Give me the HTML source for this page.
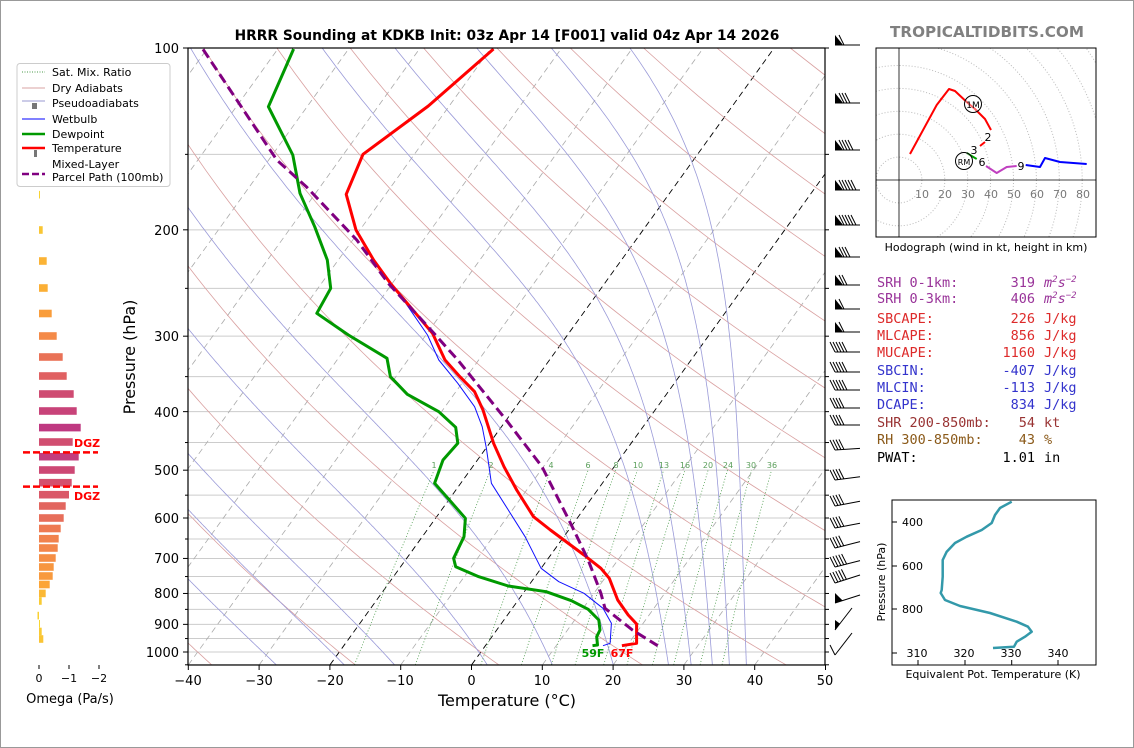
<!DOCTYPE html>
<html><head><meta charset="utf-8"><style>
html,body{margin:0;padding:0;background:#fff;}
svg{display:block;font-family:"DejaVu Sans","Liberation Sans",sans-serif;}
.mono{font-family:"DejaVu Sans Mono","Liberation Mono",monospace;font-size:13.5px;}
</style></head><body>
<svg id="s" width="1134" height="748" viewBox="0 0 1134 748" xmlns="http://www.w3.org/2000/svg">
<rect x="0.5" y="0.5" width="1133" height="747" fill="#fff" stroke="#999"/>
<defs>
<clipPath id="mc"><rect x="188" y="48" width="637" height="617"/></clipPath>
<clipPath id="hc"><rect x="876" y="48" width="220" height="189"/></clipPath>
</defs>
<g id="bg" clip-path="url(#mc)"></g>
<g id="mr" clip-path="url(#mc)" font-size="8" fill="#5a9e5a" text-anchor="middle">
<text x="434" y="468">1</text><text x="491" y="468">2</text><text x="551" y="468">4</text><text x="588" y="468">6</text><text x="616" y="468">8</text><text x="638" y="468">10</text><text x="664" y="468">13</text><text x="685" y="468">16</text><text x="708" y="468">20</text><text x="728" y="468">24</text><text x="751" y="468">30</text><text x="772" y="468">36</text>
</g>
<g clip-path="url(#mc)" fill="none" stroke-linejoin="round">
<polyline stroke="#1010ff" stroke-width="1" points="493.5,49 428.3,106 409.4,120 363,154.3 346.2,194.3 356,230 373.6,260 390.4,283.3 398.9,293.3 427.5,335 438.8,360 457.8,383.3 474.6,406.7 482.2,426.7 486.4,448.3 491.4,483.3 508.3,510 525.1,536.7 541.1,568.3 558.8,581.7 584,593.3 603,608.3 611.4,623.3 610.1,643.3 603,645.7"/>
<polyline stroke="#ff0000" stroke-width="3" points="493.5,49 428.3,106 409.4,120 363,154.3 346.2,194.3 356,230 373.6,260 390.4,283.3 415.7,313.3 432.5,333.3 445,360 459.9,376.7 474.6,391.7 483,410 493.6,443.3 504,466.7 516.7,490 533.5,516.7 550.4,530 584,555 600.9,568.3 609.3,578.3 617.7,600 628.2,615 636.6,624 636.6,643.3 621.9,645.7"/>
<polyline stroke="#009900" stroke-width="3" points="293.6,49 268.4,106.7 292.8,155 300,193.3 314.7,226.7 327.3,260 330.7,288.3 316.8,313.3 348.4,335 387,358.3 390.4,376.7 407.3,394.3 438.8,411.7 455.7,427.3 457.8,443.3 443,460 434.6,483.3 449.4,500 465.4,518.3 464,536.7 453.6,558.3 455.7,566.7 478.8,576.7 508.3,586 546.2,591.7 571.4,600.7 588.2,609.3 598.8,620 600,630 596.7,636.7 597.5,645 592.5,645.7"/>
<polyline stroke="#800080" stroke-width="3" stroke-dasharray="10,5" points="203,49.3 276.8,160 306.3,186.7 356.8,240 388.3,283.3 432.5,331.7 457.8,360 506.2,420 542,466.7 571.4,525 588.2,560 600.9,593.3 605,608.3 632.4,630 657.7,645.7"/>
</g>
<text x="593" y="657" font-size="11" font-weight="bold" fill="#009900" text-anchor="middle">59F</text>
<text x="622" y="657" font-size="11" font-weight="bold" fill="#ff0000" text-anchor="middle">67F</text>
<rect x="188" y="48" width="637" height="617" fill="none" stroke="#000" stroke-width="1.2"/>
<g id="ax" font-size="13" fill="#000"></g>
<text x="507" y="40" font-size="13.8" font-weight="bold" text-anchor="middle">HRRR Sounding at KDKB Init: 03z Apr 14 [F001] valid 04z Apr 14 2026</text>
<text x="507" y="706" font-size="16" text-anchor="middle">Temperature (°C)</text>
<text transform="translate(135,357) rotate(-90)" font-size="16" text-anchor="middle">Pressure (hPa)</text>
<g font-size="13" text-anchor="end">
<text x="179" y="53">100</text><text x="179" y="235">200</text><text x="179" y="341">300</text><text x="179" y="417">400</text><text x="179" y="475">500</text><text x="179" y="523">600</text><text x="179" y="563">700</text><text x="179" y="598">800</text><text x="179" y="629">900</text><text x="179" y="657">1000</text>
</g>
<g font-size="13" text-anchor="middle">
<text x="188" y="685">−40</text><text x="259" y="685">−30</text><text x="330" y="685">−20</text><text x="400" y="685">−10</text><text x="471.5" y="685">0</text><text x="542" y="685">10</text><text x="613" y="685">20</text><text x="684" y="685">30</text><text x="755" y="685">40</text><text x="825" y="685">50</text>
</g>
<g id="barbs" stroke="#000" fill="#000" stroke-width="1"></g>
<g id="om"></g>
<line x1="23" y1="452.4" x2="98" y2="452.4" stroke="#ff0000" stroke-width="2.5" stroke-dasharray="7,3"/>
<line x1="23" y1="486.6" x2="98" y2="486.6" stroke="#ff0000" stroke-width="2.5" stroke-dasharray="7,3"/>
<text x="74" y="447" font-size="11" font-weight="bold" fill="#ff0000">DGZ</text>
<text x="74" y="500" font-size="11" font-weight="bold" fill="#ff0000">DGZ</text>
<g stroke="#000"><line x1="39" y1="665" x2="39" y2="669"/><line x1="69" y1="665" x2="69" y2="669"/><line x1="99" y1="665" x2="99" y2="669"/></g>
<g font-size="11" text-anchor="middle"><text x="39" y="682">0</text><text x="69" y="682">−1</text><text x="99" y="682">−2</text></g>
<text x="70" y="703" font-size="13" text-anchor="middle">Omega (Pa/s)</text>
<rect x="17" y="63.5" width="153" height="123" rx="3" fill="#fff" fill-opacity="0.85" stroke="#ccc"/>
<g font-size="11">
<line x1="22" y1="72" x2="45" y2="72" stroke="#4a9a4a" stroke-dasharray="1,1.5"/><text x="52" y="76">Sat. Mix. Ratio</text>
<line x1="22" y1="88" x2="45" y2="88" stroke="#d9a3a3"/><text x="52" y="92">Dry Adiabats</text>
<line x1="22" y1="101" x2="45" y2="101" stroke="#9a9ad0"/><rect x="32" y="103" width="5" height="6" fill="#777"/><text x="52" y="107">Pseudoadiabats</text>
<line x1="22" y1="119" x2="45" y2="119" stroke="#0000ff"/><text x="52" y="123">Wetbulb</text>
<line x1="22" y1="134" x2="45" y2="134" stroke="#009900" stroke-width="2.5"/><text x="52" y="138">Dewpoint</text>
<line x1="22" y1="148" x2="45" y2="148" stroke="#ff0000" stroke-width="2.5"/><rect x="34" y="150" width="3" height="7" fill="#777"/><text x="52" y="152">Temperature</text>
<line x1="22" y1="174" x2="45" y2="174" stroke="#800080" stroke-width="2.5" stroke-dasharray="7,3"/><text x="52" y="168">Mixed-Layer</text><text x="52" y="181">Parcel Path (100mb)</text>
</g>
<text x="987" y="37" font-size="15.2" font-weight="bold" fill="#808080" text-anchor="middle">TROPICALTIDBITS.COM</text>
<g clip-path="url(#hc)" fill="none" stroke="#bbb" stroke-dasharray="1,2" id="rings"></g>
<line x1="899" y1="48" x2="899" y2="237" stroke="#000" stroke-width="0.8"/>
<line x1="876" y1="180" x2="1096" y2="180" stroke="#000" stroke-width="0.8"/>
<g font-size="11" fill="#777" text-anchor="middle"><text x="922" y="198">10</text><text x="945" y="198">20</text><text x="968" y="198">30</text><text x="991" y="198">40</text><text x="1014" y="198">50</text><text x="1037" y="198">60</text><text x="1060" y="198">70</text><text x="1083" y="198">80</text></g>
<g fill="none" stroke-width="2" stroke-linejoin="round">
<polyline stroke="#ff0000" points="910,154 936.7,105 949,89 955,91 966.7,102 975,109 985,119 991,130"/>
<polyline stroke="#ff0000" points="985,142 980,146"/>
<polyline stroke="#00a000" points="966.7,153 976.7,159"/>
<polyline stroke="#c040c0" points="986,166 996.7,173 1006.7,167 1016.7,166"/>
<polyline stroke="#0000ff" points="1025.7,165 1040,167 1045,158 1060,162 1086.7,164"/>
</g>
<circle cx="973" cy="104" r="8.5" fill="#fff" fill-opacity="0.4" stroke="#000"/><text x="973" y="108" font-size="9" text-anchor="middle">1M</text>
<circle cx="964" cy="161" r="8.5" fill="#fff" fill-opacity="0.4" stroke="#000"/><text x="964" y="165" font-size="8" text-anchor="middle">RM</text>
<g font-size="11" text-anchor="middle"><text x="988" y="141">2</text><text x="974" y="154">3</text><text x="982" y="166">6</text><text x="1021" y="170">9</text></g>
<rect x="876" y="48" width="220" height="189" fill="none" stroke="#000"/>
<text x="986" y="251" font-size="11" text-anchor="middle">Hodograph (wind in kt, height in km)</text>
<g class="mono">
<text x="877" y="287" fill="#993399">SRH 0-1km:</text><text x="1035" y="287" fill="#993399" text-anchor="end">319</text><text x="1044" y="287" fill="#993399" font-style="italic">m<tspan font-size="9" dy="-5">2</tspan><tspan dy="5">s</tspan><tspan font-size="9" dy="-5">−2</tspan></text>
<text x="877" y="303" fill="#993399">SRH 0-3km:</text><text x="1035" y="303" fill="#993399" text-anchor="end">406</text><text x="1044" y="303" fill="#993399" font-style="italic">m<tspan font-size="9" dy="-5">2</tspan><tspan dy="5">s</tspan><tspan font-size="9" dy="-5">−2</tspan></text>
<text x="877" y="323" fill="#dd2a2a">SBCAPE:</text><text x="1035" y="323" fill="#dd2a2a" text-anchor="end">226</text><text x="1044" y="323" fill="#dd2a2a">J/kg</text>
<text x="877" y="340" fill="#dd2a2a">MLCAPE:</text><text x="1035" y="340" fill="#dd2a2a" text-anchor="end">856</text><text x="1044" y="340" fill="#dd2a2a">J/kg</text>
<text x="877" y="357" fill="#dd2a2a">MUCAPE:</text><text x="1035" y="357" fill="#dd2a2a" text-anchor="end">1160</text><text x="1044" y="357" fill="#dd2a2a">J/kg</text>
<text x="877" y="375" fill="#3333cc">SBCIN:</text><text x="1035" y="375" fill="#3333cc" text-anchor="end">-407</text><text x="1044" y="375" fill="#3333cc">J/kg</text>
<text x="877" y="392" fill="#3333cc">MLCIN:</text><text x="1035" y="392" fill="#3333cc" text-anchor="end">-113</text><text x="1044" y="392" fill="#3333cc">J/kg</text>
<text x="877" y="409" fill="#3333cc">DCAPE:</text><text x="1035" y="409" fill="#3333cc" text-anchor="end">834</text><text x="1044" y="409" fill="#3333cc">J/kg</text>
<text x="877" y="427" fill="#993333">SHR 200-850mb:</text><text x="1035" y="427" fill="#993333" text-anchor="end">54</text><text x="1044" y="427" fill="#993333">kt</text>
<text x="877" y="444" fill="#8b5a1a">RH 300-850mb:</text><text x="1035" y="444" fill="#8b5a1a" text-anchor="end">43</text><text x="1044" y="444" fill="#8b5a1a">%</text>
<text x="877" y="462" fill="#000">PWAT:</text><text x="1035" y="462" fill="#000" text-anchor="end">1.01</text><text x="1044" y="462" fill="#000">in</text>
</g>
<polyline fill="none" stroke="#3399aa" stroke-width="2.5" stroke-linejoin="round" points="1011.7,501.7 1000,508 995,515 991.7,523 981.7,530 966.7,536.7 955,543 946.7,551.7 942.7,560 942.7,576.7 941.7,590 940.7,593 945,600 960,606 990,613 1016.7,621.7 1028,626.7 1031.7,631.7 1025,636.7 1016.7,641.7 1014,646.7 993,648"/>
<rect x="892" y="500" width="204" height="165" fill="none" stroke="#000"/>
<g stroke="#000"><line x1="892" y1="522" x2="897" y2="522"/><line x1="892" y1="566" x2="897" y2="566"/><line x1="892" y1="609" x2="897" y2="609"/><line x1="892" y1="653" x2="897" y2="653"/>
<line x1="918" y1="665" x2="918" y2="660"/><line x1="965" y1="665" x2="965" y2="660"/><line x1="1011.7" y1="665" x2="1011.7" y2="660"/><line x1="1058" y1="665" x2="1058" y2="660"/></g>
<g font-size="11"><text x="902" y="526">400</text><text x="902" y="570">600</text><text x="902" y="613">800</text></g>
<g font-size="11" text-anchor="middle"><text x="917" y="657">310</text><text x="964" y="657">320</text><text x="1011" y="657">330</text><text x="1058" y="657">340</text></g>
<text transform="translate(885,582) rotate(-90)" font-size="11" text-anchor="middle">Pressure (hPa)</text>
<text x="993" y="678" font-size="11" text-anchor="middle">Equivalent Pot. Temperature (K)</text>
</svg>
<script>
(function(){
var NS="http://www.w3.org/2000/svg";
function el(par,tag,a){var e=document.createElementNS(NS,tag);for(var k in a)e.setAttribute(k,a[k]);par.appendChild(e);return e;}
function Y(p){return 48+604*Math.log10(p/100);}
function X(T,p){return 471.5+7.08*T+(665-Y(p))*0.72;}
var bg=document.getElementById('bg');
for(var p=100;p<=1050;p+=50){var y=Y(p);el(bg,'line',{x1:188,y1:y,x2:825,y2:y,stroke:'#cccccc','stroke-width':1});}
for(var T=-130;T<=50;T+=10){var blk=(T==0||T==-20);el(bg,'line',{x1:X(T,1050),y1:Y(1050),x2:X(T,100),y2:Y(100),stroke:blk?'#000':'#aaaaaa','stroke-width':blk?0.9:0.8,'stroke-dasharray':'6,4'});}
for(var th=-40;th<=220;th+=20){var pts=[];for(var p=1050;p>=100;p-=10){var t=(th+273.15)*Math.pow(p/1000,0.2857)-273.15;pts.push(X(t,p).toFixed(1)+','+Y(p).toFixed(1));}
el(bg,'polyline',{points:pts.join(' '),fill:'none',stroke:'#d9a0a0','stroke-width':0.8});}
var starts=[-40,-27.6,-18,-10.9,2.2,11.4,20,27.8,31,34,36.4,38.8];
starts.forEach(function(t0){var T=t0+273.15,pts=[];for(var p=1050;p>=100;p-=2){pts.push(X(T-273.15,p).toFixed(1)+','+Y(p).toFixed(1));
var es=6.112*Math.exp(17.67*(T-273.15)/(T-29.65));var rs=0.622*es/(p-es);
var d=(287*T+2.5e6*rs)/(1005+2.5e6*2.5e6*rs*0.622/(287*T*T))/p;T-=d*2;}
el(bg,'polyline',{points:pts.join(' '),fill:'none',stroke:'#9a9ad8','stroke-width':0.8});});
[1,2,4,6,8,10,13,16,20,24,30,36].forEach(function(w){var pts=[];for(var p=1050;p>=500;p-=25){var e=w*p/(622+w);var l=Math.log(e/6.112);var td=243.5*l/(17.67-l);pts.push(X(td,p).toFixed(1)+','+Y(p).toFixed(1));}
el(bg,'polyline',{points:pts.join(' '),fill:'none',stroke:'#4a9a4a','stroke-width':0.8,'stroke-dasharray':'1,2'});});
var ax=document.getElementById('ax');
for(var p=100;p<=1050;p+=50){var y=Y(p);var L=(p%100==0)?5:3;el(ax,'line',{x1:188-L,y1:y,x2:188,y2:y,stroke:'#000'});el(ax,'line',{x1:825,y1:y,x2:829,y2:y,stroke:'#000'});}
for(var T=-40;T<=50;T+=10){var x=471.5+7.08*T;el(ax,'line',{x1:x,y1:665,x2:x,y2:670,stroke:'#000'});}
var bb=document.getElementById('barbs');
var lv=[[45,1,1,0],[103,1,3,0],[150,1,4,0],[190,1,5,0],[225,1,5,0],[257,1,3,0],[285,1,2,0],[309,1,1,0],[332,1,1,0],[352,0,5,0],[372,0,5,0],[390,0,5,0],[408,0,4,0],[425,0,4,0],[450,0,4,1],[480,0,4,2],[506,0,4,3],[528,0,4,3],[548,0,4,4],[567,0,5,4],[583,0,5,5],[603,1,0,5],[630,1,0,8],[655,0,1,9]];
lv.forEach(function(a){var y=a[0],fl=a[1],nb=a[2],tilt=a[3];
var x0=835,x1=860,y1=y-tilt*1.6;if(a[3]>=8){x1=852;y1=y-22;}
el(bb,'line',{x1:x0,y1:y,x2:x1,y2:y1});
var dx=(x1-x0),dy=(y1-y),len=Math.sqrt(dx*dx+dy*dy),ux=dx/len,uy=dy/len;
var s=0;
if(fl){var ax2=x0+ux*8,ay2=y+uy*8;el(bb,'polygon',{points:x0+','+y+' '+ax2+','+ay2+' '+x0+','+(y-10),stroke:'none'});s=9;}
for(var i=0;i<nb;i++){var bx=x0+ux*(s+i*3),by=y+uy*(s+i*3);el(bb,'line',{x1:bx,y1:by,x2:bx-5,y2:by-10});}
});
var om=document.getElementById('om');
var bars=[[194.7,40],[230,42.7],[261,46.7],[288,47.7],[313.5,51.7],[336,56.7],[357,62.7],[376,66.7],[394,73.7],[411,76.7],[427.6,80.7],[442,72.7],[456.7,78.7],[470,74.7],[482.7,71.7],[494.7,69],[506,65.7],[518,63.7],[528.5,60.7],[538.7,58.7],[548,57.7],[558,55.7],[567,53.7],[576,52.7],[584.5,49.7],[593.4,45.7],[601,41.7],[615.6,37.5],[623.8,39.5],[631.5,41.7],[639,43.3]];
function col(m){var st=[[0,[248,216,50]],[0.35,[252,166,54]],[0.7,[240,125,80]],[1.0,[218,88,104]],[1.4,[190,55,130]]];
for(var i=1;i<st.length;i++){if(m<=st[i][0]){var f=(m-st[i-1][0])/(st[i][0]-st[i-1][0]);var c=st[i-1][1].map(function(v,j){return Math.round(v+(st[i][1][j]-v)*f);});return 'rgb('+c+')';}}return 'rgb(190,55,130)';}
bars.forEach(function(b){var w=b[1]-39;var x=w>=0?39:b[1];el(om,'rect',{x:x,y:b[0]-3.8,width:Math.max(Math.abs(w),1),height:7.6,fill:col(Math.abs(w)/30)});});
var rg=document.getElementById('rings');
for(var n=1;n<=12;n++)el(rg,'circle',{cx:899,cy:180,r:n*22.9});
})();
</script>
</body></html>
